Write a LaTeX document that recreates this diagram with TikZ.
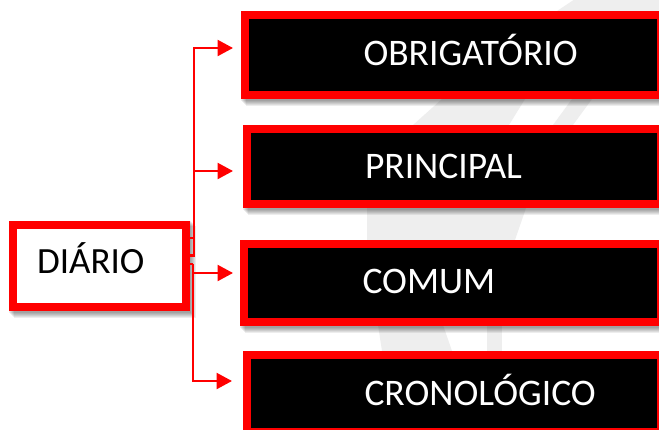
\documentclass[tikz,border=0pt]{standalone}
\usepackage{fontspec}
\setmainfont{Carlito}
\usetikzlibrary{arrows.meta}
\definecolor{markgray}{HTML}{EEEEEE}
\tikzset{
  x=1pt,y=-1pt,
  card/.style={rectangle,draw=red,line width=8pt,inner sep=0pt,outer sep=0pt,align=left},
  blackcard/.style={card,fill=black,text=white,font=\fontsize{37.5}{38}\selectfont},
  whitecard/.style={card,fill=white,text=black,font=\fontsize{37}{38}\selectfont},
  link/.style={draw=red,line width=2.4pt,line join=miter},
  linkarrow/.style={link,-{Triangle[length=15.5pt,width=16pt]}},
  watermark/.style={fill=markgray,draw=none}
}
\newcommand{\softshadow}[4]{%
  \foreach \s in {6,5,4,3,2,1}{
    \fill[black,opacity=0.07] (#1-4+\s*1.0-1,#2-4+\s*1.0-1) rectangle (#3+4+\s*0.9+1,#4+4+\s*1.0+1);
  }%
}
\begin{document}
\begin{tikzpicture}
\useasboundingbox (0,0) rectangle (659,429);
\clip (0,0) rectangle (659,429);
\fill[white] (0,0) rectangle (659,429);
% watermark
\fill[watermark] (557,11) -- (575,-1) -- (660,-1) -- (660,11) -- cycle;
\fill[watermark] (413,125) -- (442,99) -- (525,99) -- (509,125) -- cycle;
\fill[watermark] (553,125) -- (572,99) -- (592,99) -- (573,125) -- cycle;
\fill[watermark] (367,240) -- (367,208) -- (526,208) -- (515,240) -- cycle;
\fill[watermark] (382,351) -- (378,325) -- (443,325) -- (452,351) -- cycle;
\fill[watermark] (487,351) -- (487,325) -- (502,325) -- (502,351) -- cycle;
% shadows
\softshadow{245}{15}{661}{95}
\softshadow{247}{129}{661}{204}
\softshadow{244}{244}{661}{322}
\softshadow{13}{225}{185.5}{307}
% boxes
\node[blackcard,minimum width=416pt,text width=416pt,text height=50pt,text depth=30pt] (box1) at (453,55) {\hspace*{118.5pt}OBRIGATÓRIO};
\node[blackcard,minimum width=414pt,text width=414pt,text height=49pt,text depth=26pt] (box2) at (454,166.5) {\hspace*{118pt}PRINCIPAL};
\node[blackcard,minimum width=417pt,text width=417pt,text height=49pt,text depth=29pt] (box3) at (452.5,283) {\hspace*{118.5pt}COMUM};
\node[blackcard,minimum width=414pt,text width=414pt,text height=50pt,text depth=27pt] (box4) at (454,393.5) {\hspace*{117.5pt}CRONOLÓGICO};
\node[whitecard,minimum width=172.5pt,text width=172.5pt,text height=48pt,text depth=34pt] (diario) at (99.25,266) {\hspace*{24pt}DIÁRIO};
% connectors
\coordinate (upperjoin) at (194,238);
\coordinate (upperfoot) at (194,255.5);
\coordinate (lowerjoin) at (193,264);
\draw[link] ([yshift=28pt]diario.east) -- (upperjoin) -- (upperfoot) -- ([yshift=10.5pt]diario.east);
\draw[linkarrow,shorten >=12pt] (upperjoin) |- ([yshift=7pt]box1.west);
\draw[linkarrow,shorten >=14pt] (194,171) -- ([yshift=-4.5pt]box2.west);
\draw[linkarrow,shorten >=11pt] (194,273) -- ([yshift=10pt]box3.west);
\draw[link] ([yshift=2pt]diario.east) -- (lowerjoin);
\draw[linkarrow,shorten >=15pt] (lowerjoin) |- ([yshift=12.5pt]box4.west);
\end{tikzpicture}
\end{document}
